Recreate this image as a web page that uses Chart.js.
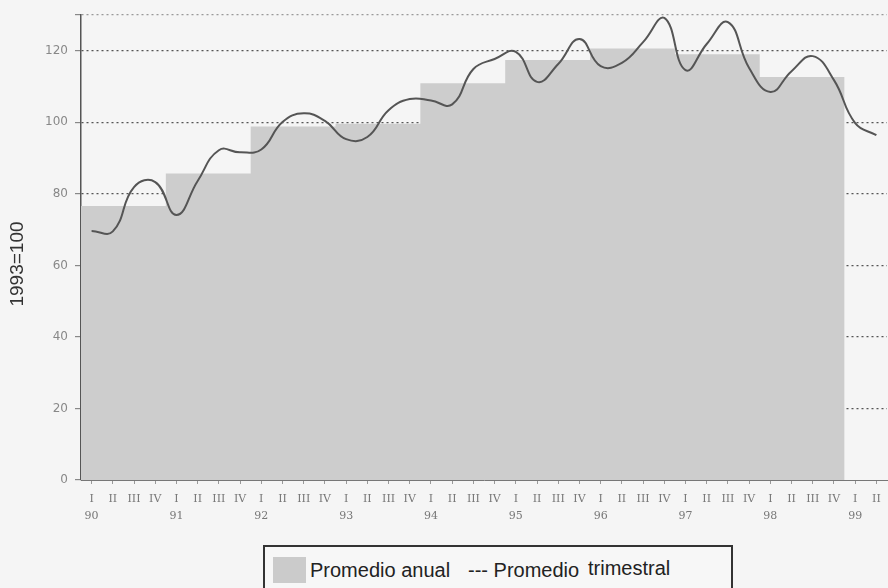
<!DOCTYPE html>
<html>
<head>
<meta charset="utf-8">
<script src="https://cdn.jsdelivr.net/npm/chart.js@4.4.0/dist/chart.umd.min.js"></script>
<style>
    html, body { margin: 0; padding: 0; background: #f5f5f5; }
    #wrap { position: relative; width: 888px; height: 588px; overflow: hidden; }
    #legend {
        position: absolute; left: 263px; top: 545px; width: 466px; height: 50px;
        border: 2px solid #333; background: #f7f7f7;
        font-family: "Liberation Sans", Arial, sans-serif; font-size: 20px; color: #222;
        white-space: nowrap;
    }
    #legend .swatch { position: absolute; left: 8px; top: 10px; width: 33px; height: 26px; background: #cbcbcb; }
    #legend span { position: absolute; }
    #legend .t1 { left: 45px; top: 12px; }
    #legend .t2 { left: 203px; top: 12px; }
    #legend .t3 { left: 323px; top: 10px; }
</style>
</head>
<body>
<div id="wrap">
    <canvas id="chart" width="888" height="588"></canvas>
    <div id="legend">
        <div class="swatch"></div>
        <span class="t1">Promedio anual</span>
        <span class="t2">--- Promedio</span>
        <span class="t3">trimestral</span>
    </div>
</div>
<script>
// --- DATA ---
const years = ['90', '91', '92', '93', '94', '95', '96', '97', '98', '99'];
const quarterNames = ['I', 'II', 'III', 'IV'];
// annual average 1990-1998 (1993=100)
const annualAvg = [76.6, 85.7, 98.8, 99.6, 110.9, 117.4, 120.6, 119.0, 112.7];
// quarterly average, 90-I .. 99-II
const quarterly = [
    69.6, 69.5, 81.9, 83.3,
    74.1, 83.6, 92.2, 91.6,
    92.4, 100.1, 102.5, 100.4,
    95.3, 95.9, 103.4, 106.5,
    106.1, 105.0, 114.9, 117.7,
    119.7, 111.3, 116.3, 123.3,
    115.7, 116.6, 122.4, 129.2,
    114.6, 121.9, 128.0, 115.2,
    108.5, 114.3, 118.5, 111.8,
    99.8, 96.4
];
const yTicks = [0, 20, 40, 60, 80, 100, 120];
const yMax = 130;

// --- build points ---
const annualPoints = annualAvg.map((v, k) => ({ x: 4 * k, y: v }));
annualPoints.push({ x: 4 * annualAvg.length, y: annualAvg[annualAvg.length - 1] });
const quarterPoints = quarterly.map((v, i) => ({ x: i + 0.5, y: v }));

// y axis title drawn left of the plot
const yTitle = {
    id: 'yTitle',
    afterDraw(chart) {
        const ctx = chart.ctx;
        ctx.save();
        ctx.translate(18, 264);
        ctx.rotate(-Math.PI / 2);
        ctx.font = '19px "Liberation Sans", Arial, sans-serif';
        ctx.fillStyle = '#333';
        ctx.textAlign = 'center';
        ctx.textBaseline = 'middle';
        ctx.fillText('1993=100', 0, 0);
        ctx.restore();
    }
};

new Chart(document.getElementById('chart').getContext('2d'), {
    type: 'line',
    data: {
        datasets: [
            {
                label: 'Promedio trimestral',
                data: quarterPoints,
                borderColor: '#555',
                borderWidth: 2,
                pointRadius: 0,
                tension: 0.45,
                fill: false,
                order: 0
            },
            {
                label: 'Promedio anual',
                data: annualPoints,
                stepped: 'before',
                borderColor: 'rgba(0,0,0,0)',
                borderWidth: 0,
                backgroundColor: '#cdcdcd',
                pointRadius: 0,
                fill: 'origin',
                order: 1
            }
        ]
    },
    options: {
        responsive: false,
        animation: false,
        layout: { padding: { top: 15, right: 1, left: 0, bottom: 0 } },
        plugins: { legend: { display: false }, tooltip: { enabled: false } },
        scales: {
            x: {
                type: 'linear',
                min: 0,
                max: quarterly.length,
                afterFit: (s) => { s.height = 108; },
                afterBuildTicks: (s) => { s.ticks = quarterly.map((_, i) => ({ value: i + 0.5 })); },
                grid: { drawOnChartArea: false, tickLength: 4, color: '#999' },
                border: { color: '#777', width: 1 },
                ticks: {
                    autoSkip: false, maxRotation: 0, minRotation: 0, padding: 7,
                    color: '#777',
                    font: { family: '"DejaVu Serif", serif', size: 11, lineHeight: 1.55 },
                    callback: (value) => {
                        const i = Math.round(value - 0.5);
                        const q = quarterNames[i % 4];
                        return i % 4 === 0 ? [q, years[i / 4]] : q;
                    }
                }
            },
            y: {
                min: 0,
                max: yMax,
                afterFit: (s) => { s.width = 81; },
                afterBuildTicks: (s) => { s.ticks = yTicks.concat([yMax]).map(v => ({ value: v })); },
                grid: {
                    color: (c) => c.tick && c.tick.value === 0 ? 'rgba(0,0,0,0)' : (c.tick && c.tick.value === yMax ? '#999' : '#555'),
                    lineWidth: 1.2,
                    tickLength: 6,
                    tickColor: '#888',
                    tickBorderDash: []
                },
                border: { color: '#555', width: 1.5, dash: [2, 3] },
                ticks: {
                    padding: 7,
                    color: '#888',
                    font: { family: '"DejaVu Sans", sans-serif', size: 12 },
                    callback: (v) => v === yMax ? '' : v
                }
            }
        }
    },
    plugins: [yTitle]
});
</script>
</body>
</html>
